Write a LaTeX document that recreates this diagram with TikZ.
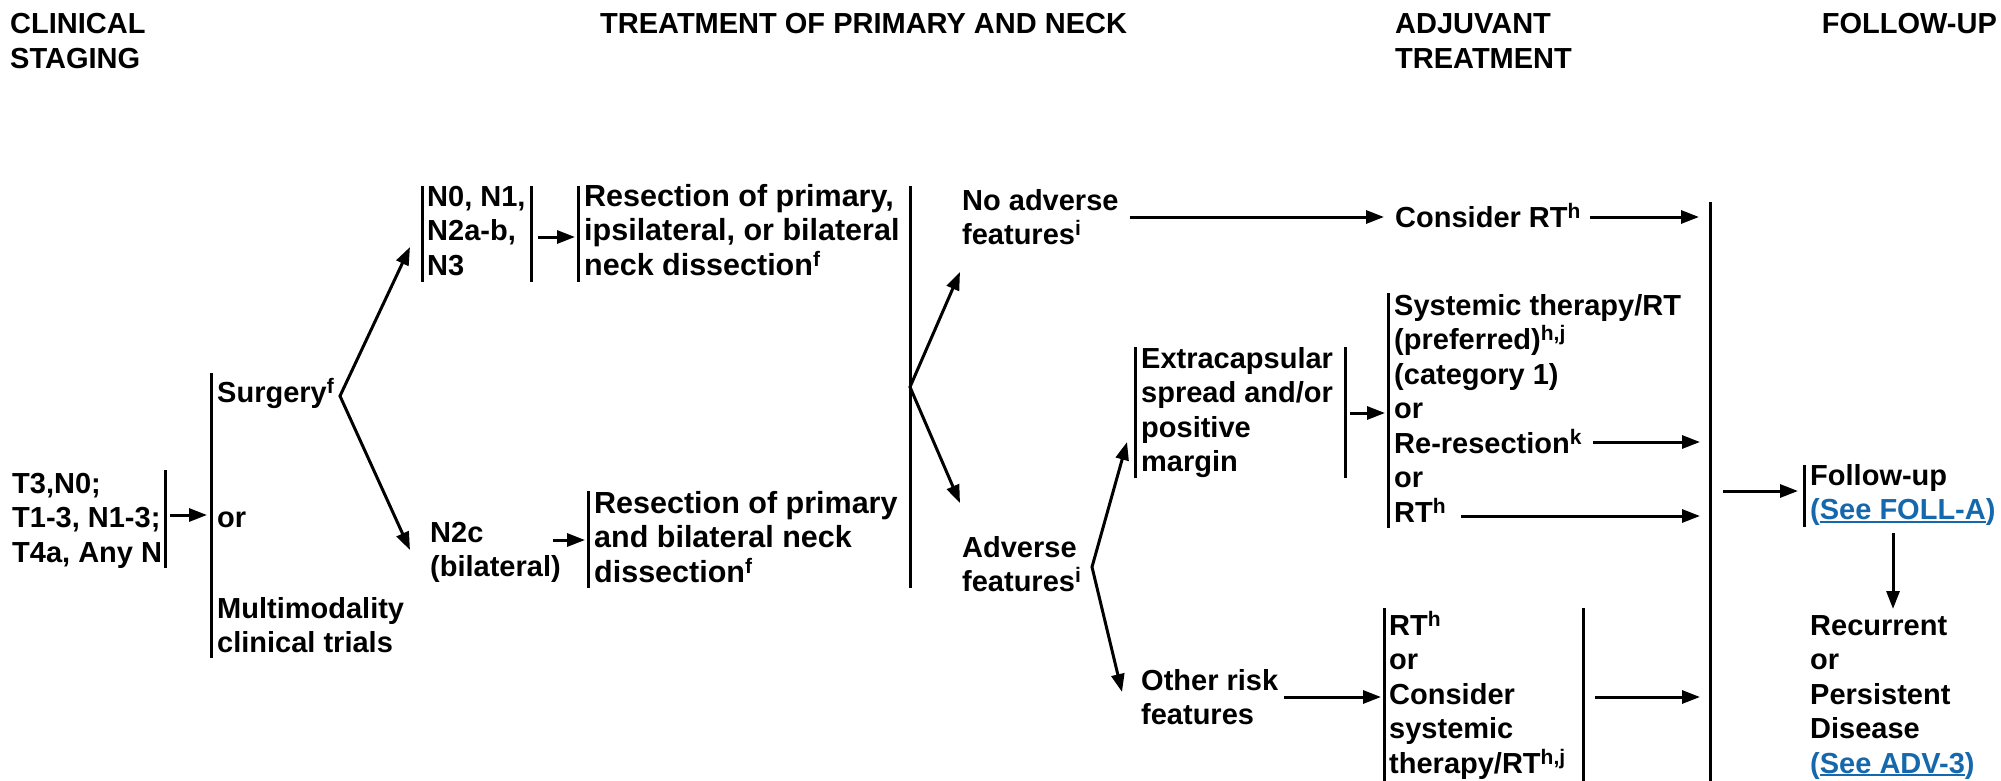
\documentclass[tikz,border=0pt]{standalone}
\usepackage{fontspec}
\setmainfont{Liberation Sans}
\usetikzlibrary{arrows.meta}
\definecolor{linkblue}{RGB}{22,104,172}
\newcommand{\ml}[1]{\begin{tabular}[t]{@{}l@{}}#1\end{tabular}}
\newcommand{\supx}[1]{\raisebox{9pt}[0pt][0pt]{\fontsize{21}{21}\selectfont #1}}
\newcommand{\ulx}[1]{\setbox0\hbox{#1}\rlap{\rule[-3pt]{\wd0}{1.8pt}}\box0}
\begin{document}
\begin{tikzpicture}[x=1pt,y=-1pt,
  txt/.style={anchor=base west, inner sep=0pt, font=\fontsize{29}{34.5}\selectfont\bfseries},
  wtxt/.style={txt, font=\fontsize{30.5}{34.5}\selectfont\bfseries},
  bar/.style={line width=3pt},
  arr/.style={line width=3pt, -{Triangle[length=18pt,width=13pt]}},
  arr2/.style={line width=3pt, line join=miter, {Triangle[length=18pt,width=13pt]}-{Triangle[length=18pt,width=13pt]}}]
\useasboundingbox (0,0) rectangle (2001,781);

% headers
\node[txt] (hstage) at (10,34) {\ml{CLINICAL\\STAGING}};
\node[txt] (htreat) at (600,34) {TREATMENT OF PRIMARY AND NECK};
\node[txt] (hadj) at (1395,34) {\ml{ADJUVANT\\TREATMENT}};
\node[txt, anchor=base east] (hfu) at (1997,34) {FOLLOW-UP};

% staging
\node[txt] (stage) at (12,493) {\ml{T3,N0;\\T1-3, N1-3;\\T4a, Any N}};
\draw[bar] (165,470) -- (165,568);

% primary treatment options
\draw[bar] (211,373) -- (211,658);
\node[txt] (surg) at (217,402) {Surgery\supx{f}};
\node[txt] (or1) at (217,527.5) {or};
\node[txt] (multi) at (217,618) {\ml{Multimodality\\clinical trials}};

% N0 group
\draw[bar] (422,186) -- (422,282);
\draw[bar] (531,186) -- (531,282);
\node[txt] (n0) at (427,206) {\ml{N0, N1,\\N2a-b,\\N3}};

% resection 1
\draw[bar] (578,186) -- (578,282);
\node[wtxt] (res1) at (584,206) {\ml{Resection of primary,\\ipsilateral, or bilateral\\neck dissection\supx{f}}};

% N2c group
\node[txt] (n2c) at (430,542) {\ml{N2c\\(bilateral)}};
\draw[bar] (588,491) -- (588,588);
\node[wtxt] (res2) at (594,513) {\ml{Resection of primary\\and bilateral neck\\dissection\supx{f}}};

% middle bar
\draw[bar] (910,186) -- (910,588);

% features
\node[txt] (noadv) at (962,210) {\ml{No adverse\\features\supx{i}}};
\node[txt] (adv) at (962,557) {\ml{Adverse\\features\supx{i}}};

% extracapsular
\draw[bar] (1135,347) -- (1135,478);
\draw[bar] (1345,347) -- (1345,478);
\node[txt] (extra) at (1141,368) {\ml{Extracapsular\\spread and/or\\positive\\margin}};

\node[txt] (other) at (1141,690) {\ml{Other risk\\features}};

% adjuvant
\node[txt] (consrt) at (1395,227) {Consider RT\supx{h}};
\draw[bar] (1388,293) -- (1388,528);
\node[txt] (adj1) at (1394,315) {\ml{Systemic therapy/RT\\(preferred)\supx{h,j}\\(category 1)\\or\\Re-resection\supx{k}\\or\\RT\supx{h}}};
\draw[bar] (1384,608) -- (1384,781);
\draw[bar] (1583,608) -- (1583,781);
\node[txt] (adj2) at (1389,635) {\ml{RT\supx{h}\\or\\Consider\\systemic\\therapy/RT\supx{h,j}}};

% right bar
\draw[bar] (1710,202) -- (1710,781);

% follow-up
\draw[bar] (1804,465) -- (1804,527);
\node[txt] (fu) at (1810,485) {\ml{Follow-up\\\textcolor{linkblue}{(\ulx{See FOLL-A})}}};
\node[txt] (rec) at (1810,635) {\ml{Recurrent\\or\\Persistent\\Disease\\\textcolor{linkblue}{(\ulx{See ADV-3})}}};

% connector coordinates
\coordinate (stA) at (170,515); \coordinate (stB) at (207,515);
\coordinate (sApex) at (340,396); \coordinate (n0In) at (410,247); \coordinate (n2cIn) at (410,550);
\coordinate (n0A) at (538,237); \coordinate (n0B) at (575,237);
\coordinate (n2cA) at (553,540); \coordinate (n2cB) at (585,540);
\coordinate (mApex) at (910,387); \coordinate (noIn) at (960,272); \coordinate (advIn) at (960,503);
\coordinate (noA) at (1130,217); \coordinate (noB) at (1384,217);
\coordinate (crA) at (1590,217); \coordinate (crB) at (1699,217);
\coordinate (aApex) at (1092,567); \coordinate (exIn) at (1127,442); \coordinate (orIn) at (1122,692);
\coordinate (exA) at (1350,413); \coordinate (exB) at (1385,413);
\coordinate (rrA) at (1593,442); \coordinate (rrB) at (1700,442);
\coordinate (rtA) at (1461,516); \coordinate (rtB) at (1700,516);
\coordinate (otA) at (1284,697); \coordinate (otB) at (1381,697);
\coordinate (a2A) at (1595,697); \coordinate (a2B) at (1700,697);
\coordinate (fuA) at (1723,491); \coordinate (fuB) at (1798,491);
\coordinate (dnA) at (1893,533); \coordinate (dnB) at (1893,609);

% connectors
\draw[arr] (stA) -- (stB);
\draw[arr2] (n0In) -- (sApex) -- (n2cIn);
\draw[arr] (n0A) -- (n0B);
\draw[arr] (n2cA) -- (n2cB);
\draw[arr2] (noIn) -- (mApex) -- (advIn);
\draw[arr] (noA) -- (noB);
\draw[arr] (crA) -- (crB);
\draw[arr2] (exIn) -- (aApex) -- (orIn);
\draw[arr] (exA) -- (exB);
\draw[arr] (rrA) -- (rrB);
\draw[arr] (rtA) -- (rtB);
\draw[arr] (otA) -- (otB);
\draw[arr] (a2A) -- (a2B);
\draw[arr] (fuA) -- (fuB);
\draw[arr] (dnA) -- (dnB);
\end{tikzpicture}
\end{document}
